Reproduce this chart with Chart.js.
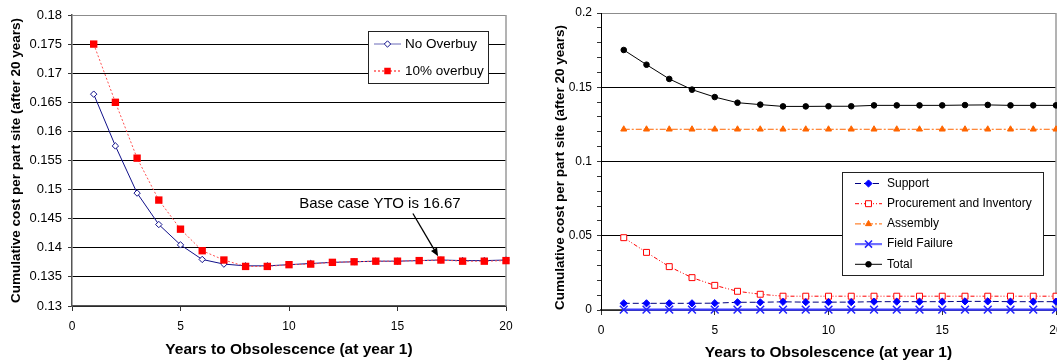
<!DOCTYPE html>
<html><head><meta charset="utf-8">
<script src="https://cdn.jsdelivr.net/npm/chart.js@4.4.1/dist/chart.umd.min.js"></script>
<style>
html,body{margin:0;padding:0;background:#fff;overflow:hidden;width:1057px;height:362px;position:relative;}
#left{position:absolute;left:0;top:0;}
#right{position:absolute;left:530px;top:0;}
</style></head><body>
<canvas id="left" width="530" height="362"></canvas>
<canvas id="right" width="545" height="362"></canvas>
<script>
// Years to obsolescence (x values shared by both panels)
const years = [1,2,3,4,5,6,7,8,9,10,11,12,13,14,15,16,17,18,19,20];

// Left panel: cumulative cost per part site
const noOverbuy = [0.1664,0.1575,0.1494,0.1440,0.1405,0.1380,0.1372,0.1369,0.1369,0.1371,
                   0.1373,0.1375,0.1376,0.1377,0.1377,0.1378,0.1379,0.1378,0.1378,0.1379];
const overbuy10 = [0.1750,0.1650,0.1554,0.1482,0.1432,0.1395,0.1379,0.1368,0.1368,0.1371,
                   0.1372,0.1375,0.1376,0.1377,0.1377,0.1378,0.1379,0.1377,0.1377,0.1378];
const leftLabels = ['No Overbuy', '10% overbuy'];
const noteText = 'Base case YTO is 16.67';

// Right panel: cost breakdown
const support = [0.0045,0.0045,0.0045,0.0045,0.0046,0.0052,0.0052,0.0055,0.0053,0.0053,
                 0.0053,0.0056,0.0056,0.0056,0.0056,0.0058,0.0058,0.0056,0.0056,0.0056];
const procurement = [0.0487,0.0388,0.0292,0.0218,0.0166,0.0126,0.0106,0.0093,0.0093,0.0093,
                     0.0093,0.0093,0.0093,0.0093,0.0093,0.0093,0.0093,0.0093,0.0093,0.0093];
const assembly = [0.1217,0.1217,0.1217,0.1217,0.1217,0.1217,0.1217,0.1217,0.1217,0.1217,
                  0.1217,0.1217,0.1217,0.1217,0.1217,0.1217,0.1217,0.1217,0.1217,0.1217];
const fieldFailure = [0.0002,0.0002,0.0002,0.0002,0.0002,0.0002,0.0002,0.0002,0.0002,0.0002,
                      0.0002,0.0002,0.0002,0.0002,0.0002,0.0002,0.0002,0.0002,0.0002,0.0002];
const total = [0.1751,0.1652,0.1556,0.1484,0.1434,0.1396,0.1383,0.1371,0.1371,0.1372,
               0.1372,0.1378,0.1378,0.1378,0.1378,0.1380,0.1381,0.1378,0.1378,0.1378];
const rightLabels = ['Support', 'Procurement and Inventory', 'Assembly', 'Field Failure', 'Total'];

const xTitle = 'Years to Obsolescence (at year 1)';
const yTitle = 'Cumulative cost per part site (after 20 years)';
const xTicks = [0, 5, 10, 15, 20];

const FONT = "'Liberation Sans', Arial, sans-serif";
const pts = arr => arr.map((v, i) => ({x: years[i], y: v}));
const fmt = v => String(parseFloat(v.toFixed(3)));

// Gray frame on the right side of the plot area
const framePlugin = {
  id: 'frame',
  beforeDatasetsDraw(chart) {
    const {ctx, chartArea: a} = chart;
    ctx.save();
    ctx.strokeStyle = '#9a9a9a';
    ctx.lineWidth = 1.5;
    ctx.beginPath();
    ctx.moveTo(a.right, a.top);
    ctx.lineTo(a.right, a.bottom);
    ctx.stroke();
    ctx.restore();
  }
};

// Rotated y-axis title placed beside the tick labels
const yTitlePlugin = {
  id: 'yTitle',
  afterDraw(chart, args, o) {
    const {ctx, chartArea: a} = chart;
    ctx.save();
    ctx.translate(o.x, (a.top + a.bottom) / 2 + o.dy);
    ctx.rotate(-Math.PI / 2);
    ctx.fillStyle = '#000';
    ctx.font = 'bold ' + o.size + 'px ' + FONT;
    ctx.textAlign = 'center';
    ctx.textBaseline = 'middle';
    ctx.fillText(yTitle, 0, 0);
    ctx.restore();
  }
};

// Boxed legend drawn inside the plot area
const boxLegend = {
  id: 'boxLegend',
  afterDraw(chart, args, o) {
    const {ctx} = chart;
    ctx.save();
    ctx.fillStyle = '#fff';
    ctx.fillRect(o.x, o.y, o.w, o.h);
    ctx.strokeStyle = '#222';
    ctx.lineWidth = 1;
    ctx.strokeRect(o.x + 0.5, o.y + 0.5, o.w, o.h);
    chart.data.datasets.forEach((ds, i) => {
      const y = o.y + o.first + i * o.step;
      ctx.save();
      ctx.strokeStyle = ds.legendLine || ds.borderColor;
      ctx.lineWidth = ds.borderWidth;
      ctx.setLineDash(ds.borderDash || []);
      ctx.beginPath();
      ctx.moveTo(o.x + o.line0, y);
      ctx.lineTo(o.x + o.line1, y);
      ctx.stroke();
      ctx.setLineDash([]);
      ctx.fillStyle = ds.pointBackgroundColor;
      ctx.strokeStyle = ds.pointBorderColor;
      ctx.lineWidth = ds.pointBorderWidth;
      Chart.helpers.drawPoint(ctx, {
        pointStyle: ds.pointStyle, radius: ds.legendRadius || ds.pointRadius,
        rotation: 0, borderWidth: ds.pointBorderWidth
      }, o.x + (o.line0 + o.line1) / 2, y);
      ctx.restore();
      ctx.fillStyle = '#000';
      ctx.font = o.font + 'px ' + FONT;
      ctx.textBaseline = 'middle';
      ctx.textAlign = 'left';
      ctx.fillText(ds.label, o.x + o.text, y);
    });
    ctx.restore();
  }
};

// Text note with an arrow, anchored in data coordinates
const arrowNote = {
  id: 'arrowNote',
  afterDatasetsDraw(chart, args, o) {
    if (!o.text) return;
    const {ctx, scales: {x, y}} = chart;
    const tx = x.getPixelForValue(o.textAt[0]), ty = y.getPixelForValue(o.textAt[1]);
    const x0 = x.getPixelForValue(o.from[0]), y0 = y.getPixelForValue(o.from[1]);
    const x1 = x.getPixelForValue(o.to[0]), y1 = y.getPixelForValue(o.to[1]);
    ctx.save();
    ctx.fillStyle = '#000';
    ctx.font = o.font + 'px ' + FONT;
    ctx.textAlign = 'center';
    ctx.textBaseline = 'middle';
    ctx.fillText(o.text, tx, ty);
    ctx.strokeStyle = '#000';
    ctx.lineWidth = 1.3;
    const ang = Math.atan2(y1 - y0, x1 - x0);
    const hl = 8, hw = 3.5;
    const bx = x1 - hl * Math.cos(ang), by = y1 - hl * Math.sin(ang);
    ctx.beginPath();
    ctx.moveTo(x0, y0);
    ctx.lineTo(bx, by);
    ctx.stroke();
    ctx.beginPath();
    ctx.moveTo(x1, y1);
    ctx.lineTo(bx + hw * Math.sin(ang), by - hw * Math.cos(ang));
    ctx.lineTo(bx - hw * Math.sin(ang), by + hw * Math.cos(ang));
    ctx.closePath();
    ctx.fill();
    ctx.restore();
  }
};

function xScale(opts) {
  return {
    type: 'linear', min: 0, max: 20,
    afterBuildTicks: s => { s.ticks = xTicks.map(v => ({value: v})); },
    afterFit: s => { s.height = opts.height; },
    grid: {drawOnChartArea: false, drawTicks: true, tickLength: 5, color: '#333', tickColor: '#333'},
    border: {color: '#555', width: 1.5},
    ticks: {font: {family: FONT, size: opts.tickSize}, color: '#000', padding: opts.tickPad, maxRotation: 0},
    title: {display: true, text: xTitle, color: '#000',
            font: {family: FONT, size: 15.5, weight: 'bold', lineHeight: 1.2},
            padding: {top: 0, bottom: opts.titlePad}}
  };
}

Chart.defaults.font.family = FONT;

// ---------- left panel ----------
new Chart(document.getElementById('left'), {
  type: 'line',
  data: {
    datasets: [
      {label: leftLabels[0], data: pts(noOverbuy), borderColor: '#10108a', borderWidth: 1,
       pointStyle: 'rectRot', pointRadius: 3.2, pointBackgroundColor: '#fff',
       pointBorderColor: '#10108a', pointBorderWidth: 1, legendLine: '#6a6ab8', order: 1, clip: false},
      {label: leftLabels[1], data: pts(overbuy10), borderColor: '#ff5050', borderWidth: 1,
       borderDash: [2, 2], pointStyle: 'rect', pointRadius: 5.2, pointBackgroundColor: '#ff0000',
       pointBorderColor: '#ff0000', pointBorderWidth: 0, legendRadius: 4.6, legendLine: '#ff0000',
       order: 0, clip: false}
    ]
  },
  options: {
    responsive: false, animation: false,
    layout: {padding: {top: 15, right: 24, left: 0, bottom: 0}},
    plugins: {
      legend: {display: false}, tooltip: {enabled: false},
      boxLegend: {x: 368, y: 31, w: 120, h: 52, first: 13, step: 27, line0: 6, line1: 33, text: 37, font: 13.5},
      arrowNote: {text: noteText, font: 15, textAt: [14.19, 0.1476], from: [15.71, 0.1459], to: [16.87, 0.13855]},
      yTitle: {x: 16, dy: 0, size: 13.5}
    },
    scales: {
      x: xScale({height: 56, tickSize: 12, tickPad: 8, titlePad: 2.5}),
      y: {
        type: 'linear', min: 0.13, max: 0.18,
        afterBuildTicks: s => { const t = []; for (let k = 0; k <= 10; k++) t.push({value: 0.13 + k * 0.005}); s.ticks = t; },
        afterFit: s => { s.width = 72; },
        grid: {
          color: c => c.tick && Math.abs(c.tick.value - 0.18) < 1e-9 ? '#8c8c8c' : '#000',
          tickColor: '#333', tickLength: 4, lineWidth: 1
        },
        border: {color: '#555', width: 1.5},
        ticks: {font: {family: FONT, size: 13}, color: '#000', padding: 6, callback: v => fmt(v)},
        title: {display: false}
      }
    }
  },
  plugins: [framePlugin, arrowNote, boxLegend, yTitlePlugin]
});

// ---------- right panel ----------
new Chart(document.getElementById('right'), {
  type: 'line',
  data: {
    datasets: [
      {label: rightLabels[0], data: pts(support), borderColor: '#000080', borderWidth: 1,
       borderDash: [6, 3], pointStyle: 'rectRot', pointRadius: 3.6, pointBackgroundColor: '#0000ff',
       pointBorderColor: '#0000ff', pointBorderWidth: 1, clip: false},
      {label: rightLabels[1], data: pts(procurement), borderColor: '#ff0000', borderWidth: 1,
       borderDash: [4, 2, 1, 2, 1, 2], pointStyle: 'rect', pointRadius: 4.2, pointBackgroundColor: '#fff',
       pointBorderColor: '#ff0000', pointBorderWidth: 1, clip: false},
      {label: rightLabels[2], data: pts(assembly), borderColor: '#ff6600', borderWidth: 1,
       borderDash: [6, 2, 2, 2], pointStyle: 'triangle', pointRadius: 3.5, pointBackgroundColor: '#ff6600',
       pointBorderColor: '#ff6600', pointBorderWidth: 1, clip: false},
      {label: rightLabels[3], data: pts(fieldFailure), borderColor: '#3a3aff', borderWidth: 2.2,
       pointStyle: 'crossRot', pointRadius: 5.5, pointBackgroundColor: '#2222ff',
       pointBorderColor: '#2222ff', pointBorderWidth: 1.5, legendLine: '#7070ff', legendRadius: 5, clip: false},
      {label: rightLabels[4], data: pts(total), borderColor: '#000', borderWidth: 1,
       pointStyle: 'circle', pointRadius: 2.8, pointBackgroundColor: '#000',
       pointBorderColor: '#000', pointBorderWidth: 1, clip: false}
    ]
  },
  options: {
    responsive: false, animation: false,
    layout: {padding: {top: 13, right: 19, left: 0, bottom: 0}},
    plugins: {
      legend: {display: false}, tooltip: {enabled: false},
      boxLegend: {x: 312, y: 172, w: 201, h: 103, first: 11.5, step: 20.2, line0: 13, line1: 40, text: 45, font: 12},
      arrowNote: {},
      yTitle: {x: 30.5, dy: 6, size: 13.5}
    },
    scales: {
      x: xScale({height: 52, tickSize: 12, tickPad: 8, titlePad: 0}),
      y: {
        type: 'linear', min: 0, max: 0.2,
        afterBuildTicks: s => { const t = []; for (let k = 0; k <= 20; k++) t.push({value: k * 0.01}); s.ticks = t; },
        afterFit: s => { s.width = 71; },
        grid: {
          color: c => {
            if (!c.tick) return '#000';
            const v = c.tick.value;
            if (Math.abs(v - 0.2) < 1e-9) return '#8c8c8c';
            return Math.abs(v / 0.05 - Math.round(v / 0.05)) < 1e-6 ? '#000' : 'rgba(0,0,0,0)';
          },
          tickColor: '#333', tickLength: 4, lineWidth: 1
        },
        border: {color: '#000', width: 1},
        ticks: {font: {family: FONT, size: 12}, color: '#000', padding: 5, autoSkip: false,
                callback: v => Math.abs(v / 0.05 - Math.round(v / 0.05)) < 1e-6 ? fmt(v) : ''},
        title: {display: false}
      }
    }
  },
  plugins: [framePlugin, arrowNote, boxLegend, yTitlePlugin]
});
</script>
</body></html>
